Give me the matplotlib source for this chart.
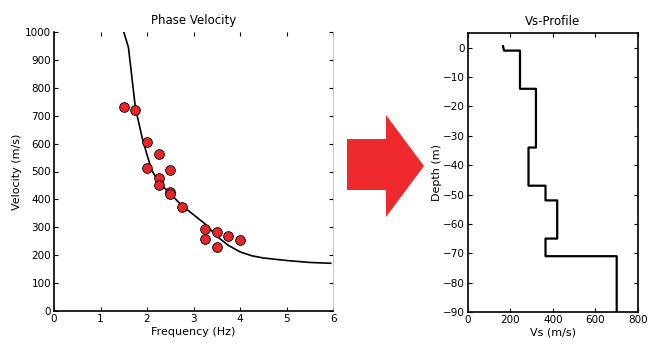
import numpy as np
import matplotlib.pyplot as plt
from matplotlib.patches import Polygon

# Dados de dispersao observados (frequencia, velocidade de fase)
freq_obs = [1.5, 1.75, 2.0, 2.0, 2.25, 2.25, 2.25, 2.5, 2.5, 2.5, 2.75, 3.25, 3.25, 3.5, 3.5, 3.75, 4.0]
vel_obs = [730, 722, 605, 512, 562, 475, 452, 505, 428, 420, 372, 295, 258, 283, 230, 268, 256]

# Curva teorica
freq_teo = [1.5, 1.6, 1.68, 1.75, 1.9, 2.0, 2.1, 2.25, 2.5, 2.75, 3.0, 3.25, 3.5, 3.75, 4.0, 4.25, 4.5, 5.0, 5.5, 5.95]
vel_teo = [1000, 945, 830, 728, 618, 560, 505, 462, 420, 378, 345, 312, 268, 235, 212, 198, 190, 181, 174, 171]

# Perfil Vs
vs_perfil = [165, 170, 245, 245, 320, 320, 285, 285, 365, 365, 420, 420, 365, 365, 700, 700]
prof_perfil = [0.5, -1, -1, -14, -14, -34, -34, -47, -47, -52, -52, -65, -65, -71, -71, -90]

plt.rcParams['font.family'] = 'DejaVu Sans'
plt.rcParams['font.size'] = 7.5

fig = plt.figure(figsize=(6.49, 3.43), dpi=100)

ax1 = fig.add_axes([0.0832, 0.0933, 0.430, 0.8134])
ax1.plot(freq_teo, vel_teo, color='black', linewidth=1.2)
ax1.plot(freq_obs, vel_obs, 'o', markerfacecolor='#E8262A', markeredgecolor='black',
         markeredgewidth=0.6, markersize=7)
ax1.set_xlim(0, 6)
ax1.set_ylim(0, 1000)
ax1.set_xticks(range(0, 7))
ax1.set_yticks(range(0, 1001, 100))
ax1.set_title('Phase Velocity', fontsize=8.5, pad=6)
ax1.set_xlabel('Frequency (Hz)', fontsize=8, labelpad=2)
ax1.set_ylabel('Velocity (m/s)', fontsize=8, labelpad=2)
ax1.tick_params(direction='in', top=True, right=True, length=3, pad=2)
ax1.spines['top'].set_visible(False)
ax1.spines['right'].set_color('#BBBBBB')
ax1.spines['right'].set_linewidth(0.6)
for s in ['left', 'bottom']:
    ax1.spines[s].set_linewidth(1.2)

ax2 = fig.add_axes([0.721, 0.0904, 0.262, 0.8134])
ax2.plot(vs_perfil, prof_perfil, color='black', linewidth=1.6)
ax2.set_xlim(0, 800)
ax2.set_ylim(-90, 5)
ax2.set_xticks(range(0, 801, 200))
ax2.set_yticks(range(-90, 1, 10))
ax2.set_title('Vs-Profile', fontsize=8.5, pad=6)
ax2.set_xlabel('Vs (m/s)', fontsize=8, labelpad=2)
ax2.set_ylabel('Depth (m)', fontsize=8, labelpad=1)
ax2.tick_params(direction='in', top=True, right=True, length=3, pad=2)
for s in ax2.spines.values():
    s.set_linewidth(1.2)

# Seta vermelha entre os graficos
W, H = 649, 343
seta_px = [(347, 139), (386, 139), (386, 115), (424, 166), (386, 217), (386, 190), (347, 190)]
seta = Polygon([(x / W, 1 - y / H) for x, y in seta_px], closed=True,
               transform=fig.transFigure, facecolor='#EE2A2E', edgecolor='none')
fig.patches.append(seta)

fig.savefig('out.png', dpi=100)
